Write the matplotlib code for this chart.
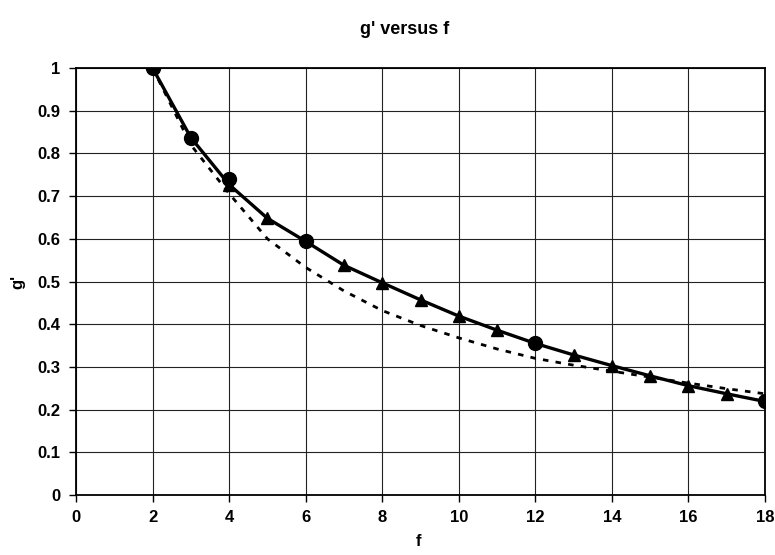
import numpy as np
import matplotlib
matplotlib.use('Agg')
from matplotlib import pyplot as plt

# g' values along the solid curve, one per f from 2 to 18
f_all = [2, 3, 4, 5, 6, 7, 8, 9, 10, 11, 12, 13, 14, 15, 16, 17, 18]
g_tri = [1.0, 0.837, 0.727, 0.648, 0.594, 0.538, 0.497, 0.457, 0.419, 0.386,
         0.355, 0.328, 0.303, 0.279, 0.256, 0.237, 0.219]

# exact points marked with circles
f_circ = [2, 3, 4, 6, 12, 18]
g_circ = [1.0, 0.837, 0.741, 0.594, 0.355, 0.219]

# approximation drawn dotted
g_approx = [1.0, 0.82, 0.706, 0.600, 0.533, 0.478, 0.432, 0.397, 0.368, 0.342,
            0.320, 0.304, 0.290, 0.276, 0.262, 0.249, 0.237]

plt.rcParams['font.family'] = ['Liberation Sans', 'DejaVu Sans']
plt.rcParams['font.weight'] = 'bold'

fig = plt.figure(figsize=(7.75, 5.55), dpi=100)
ax = fig.add_axes([76 / 775, 1 - 495 / 555, 689 / 775, 427 / 555])

# markers shown only where no circle sits on top
tri_mask = [f not in f_circ or f == 4 for f in f_all]
ax.plot(f_all, g_approx, color='black', lw=2, linestyle=(0, (2.0, 2.6)), zorder=3)
ax.plot(f_all, g_tri, color='black', lw=2.4, marker='^', markersize=9,
        markevery=tri_mask, zorder=4)
ax.plot(f_circ, g_circ, 'o', color='black', markersize=10, zorder=5)

ax.set_xlim(0, 18)
ax.set_ylim(0, 1)
ax.set_xticks(np.arange(0, 19, 2))
ax.set_yticks(np.arange(0, 1.01, 0.1))
ax.set_yticklabels(['0', '0.1', '0.2', '0.3', '0.4', '0.5', '0.6', '0.7', '0.8', '0.9', '1'])
ax.grid(True, color='#222222', lw=0.8)
ax.set_axisbelow(True)
ax.tick_params(direction='out', length=5, width=1, labelsize=12, pad=6)
for lbl in ax.get_xticklabels() + ax.get_yticklabels():
    lbl.set_fontweight('bold')
for s in ax.spines.values():
    s.set_linewidth(1.3)

fig.text(405 / 775, 1 - 30 / 555, "g' versus f", ha='center', va='center',
         fontsize=13, fontweight='bold')
fig.text(419 / 775, 1 - 542 / 555, 'f', ha='center', va='center',
         fontsize=12, fontweight='bold')
fig.text(18 / 775, 1 - 282 / 555, "g'", ha='center', va='center', rotation=90,
         fontsize=12, fontweight='bold')

plt.savefig('out.png', dpi=100)
